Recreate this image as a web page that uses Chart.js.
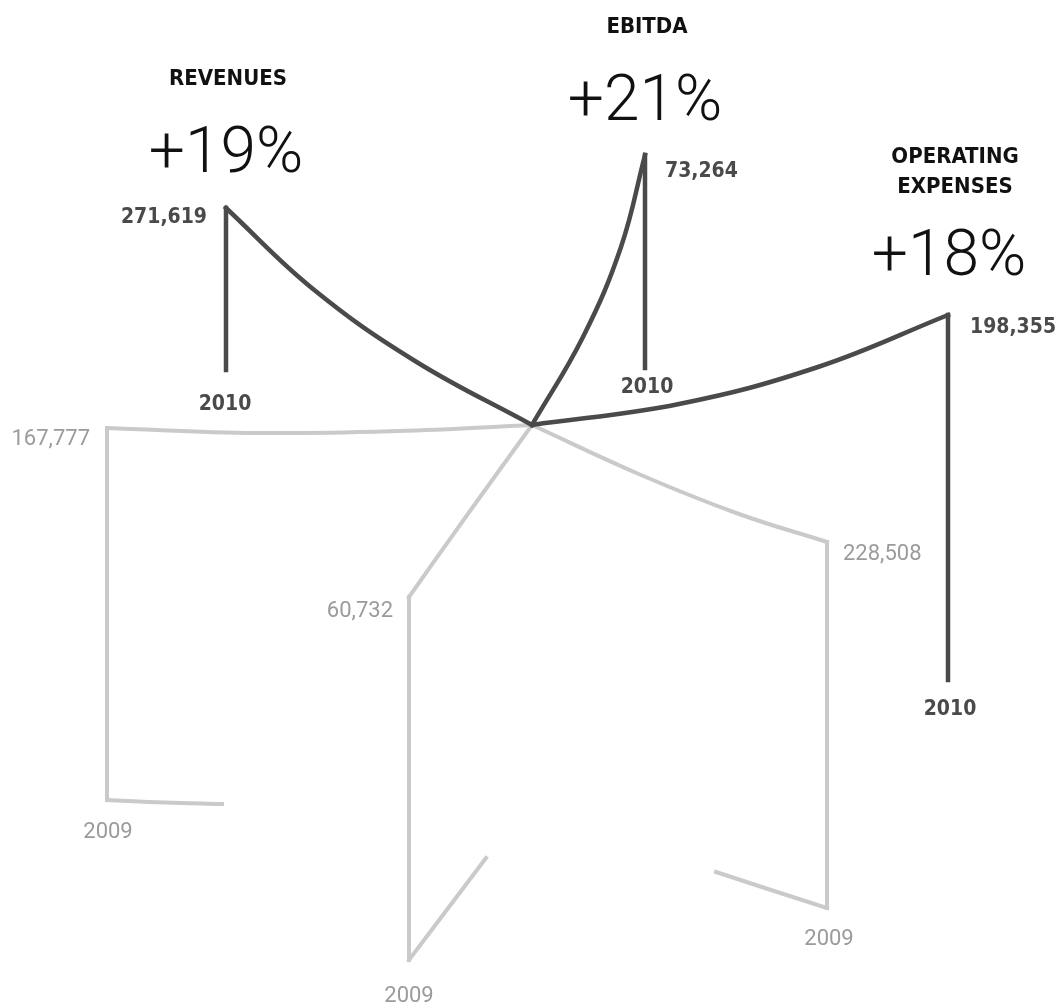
<!DOCTYPE html>
<html>
<head>
<meta charset="utf-8">
<script src="https://cdn.jsdelivr.net/npm/chart.js@4.4.0/dist/chart.umd.min.js"></script>
<style>
  html, body { margin: 0; padding: 0; background: #fff; }
  #wrap { width: 1064px; height: 1008px; }
</style>
</head>
<body>
<div id="wrap"><canvas id="chart" width="1064" height="1008"></canvas></div>
<script>
// figures as printed on the graphic
const categories = ['REVENUES', 'EBITDA', 'OPERATING EXPENSES'];
const growth = [19, 21, 18];
const values2010 = [271619, 73264, 198355];
const values2009 = [167777, 60732, 228508]; // as printed next to each grey arm
const years = ['2009', '2010'];

// arm shapes, in axis units (x 0..1064, y 0..1008 downwards)
const hub = { x: 532, y: 425 };
const arcs2010 = [
  [{ x: 226, y: 208 }, { x: 313, y: 289 }, { x: 415, y: 361 }],
  [{ x: 645, y: 155 }, { x: 621, y: 247 }, { x: 583, y: 337 }],
  [{ x: 948, y: 315 }, { x: 818, y: 367 }, { x: 679, y: 404 }]
];
const stemEnds2010 = [370, 368, 680];
const arcs2009 = [
  [{ x: 107, y: 428 }, { x: 256, y: 433 }, { x: 398, y: 431 }],
  [{ x: 409, y: 597 }, { x: 470, y: 511 }],
  [{ x: 827, y: 542 }, { x: 739, y: 514 }, { x: 641, y: 475 }]
];
const stemEnds2009 = [800, 960, 908];
const feet2009 = [
  [{ x: 165, y: 802.5 }, { x: 222, y: 804 }],
  [{ x: 486, y: 858 }],
  [{ x: 771, y: 890 }, { x: 716, y: 872 }]
];

// label anchors
const titleAt = [{ x: 228, y: 85 }, { x: 647, y: 33 }, { x: 955, y: 163 }];
const growthAt = [{ x: 226, y: 172 }, { x: 645, y: 120 }, { x: 949, y: 275 }];
const value2010At = [{ x: 207, y: 223, a: 'right' }, { x: 665, y: 177, a: 'left' }, { x: 970, y: 333, a: 'left' }];
const year2010At = [{ x: 225, y: 410 }, { x: 647, y: 393 }, { x: 950, y: 715 }];
const value2009At = [{ x: 90, y: 445, a: 'right' }, { x: 393, y: 617, a: 'right' }, { x: 843, y: 560, a: 'left' }];
const year2009At = [{ x: 108, y: 838 }, { x: 409, y: 1002 }, { x: 829, y: 945 }];

const DARK = '#4a4a4c';
const LIGHT = '#c9cacb';
const BOLD = '"DejaVu Sans Condensed", "DejaVu Sans", sans-serif';

function arm(points, color, tension, order) {
  return {
    data: points,
    showLine: true,
    borderColor: color,
    borderWidth: color === DARK ? 4.5 : 4,
    borderCapStyle: 'square',
    borderJoinStyle: 'miter',
    pointRadius: 0,
    fill: false,
    tension: tension,
    order: order,
    clip: false
  };
}

const datasets = [];
categories.forEach((c, i) => {
  const tip10 = arcs2010[i][0];
  datasets.push(arm([hub, ...arcs2010[i].slice(1).reverse(), tip10], DARK, 0.4, 0));
  datasets.push(arm([tip10, { x: tip10.x, y: stemEnds2010[i] }], DARK, 0, 0));

  const tip09 = arcs2009[i][0];
  const foot = { x: tip09.x, y: stemEnds2009[i] };
  datasets.push(arm([hub, ...arcs2009[i].slice(1).reverse(), tip09], LIGHT, 0.4, 1));
  datasets.push(arm([tip09, foot], LIGHT, 0, 1));
  datasets.push(arm([foot, ...feet2009[i]], LIGHT, 0.4, 1));
});

const fmt = v => v.toLocaleString('en-US');

const labelsPlugin = {
  id: 'labels',
  afterDatasetsDraw(chart) {
    const { ctx, scales: { x, y } } = chart;
    const put = (txt, at, font, color, align) => {
      ctx.save();
      ctx.font = font;
      ctx.fillStyle = color;
      ctx.textAlign = align || at.a || 'center';
      ctx.textBaseline = 'alphabetic';
      ctx.fillText(txt, x.getPixelForValue(at.x), y.getPixelForValue(at.y));
      ctx.restore();
    };
    categories.forEach((c, i) => {
      c.split(' ').forEach((w, k) => {
        put(w, { x: titleAt[i].x, y: titleAt[i].y + k * 30 }, 'bold 22px ' + BOLD, '#111');
      });
      put('+' + growth[i] + '%', growthAt[i], '300 64px Roboto', '#111');
      put(fmt(values2010[i]), value2010At[i], 'bold 21px ' + BOLD, DARK);
      put(years[1], year2010At[i], 'bold 21px ' + BOLD, DARK);
      put(fmt(values2009[i]), value2009At[i], '22px Roboto', '#9b9b9b');
      put(years[0], year2009At[i], '22px Roboto', '#9b9b9b');
    });
  }
};

new Chart(document.getElementById('chart'), {
  type: 'scatter',
  data: { datasets },
  options: {
    responsive: false,
    animation: false,
    layout: { padding: 0 },
    plugins: { legend: { display: false }, tooltip: { enabled: false } },
    scales: {
      x: { type: 'linear', min: 0, max: 1064, display: false },
      y: { type: 'linear', min: 0, max: 1008, reverse: true, display: false }
    }
  },
  plugins: [labelsPlugin]
});
</script>
</body>
</html>
